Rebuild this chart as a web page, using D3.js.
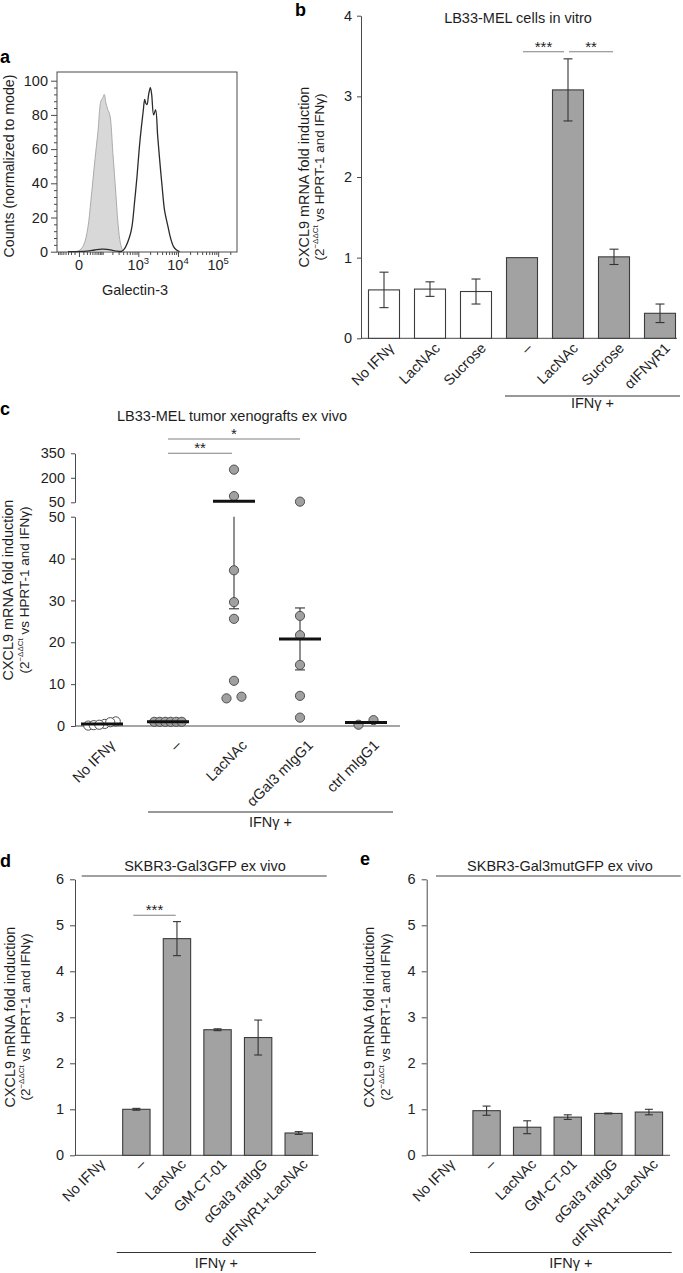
<!DOCTYPE html>
<html><head><meta charset="utf-8">
<script src="https://cdn.jsdelivr.net/npm/d3@7"></script>
<style>
body{margin:0;background:#fff;}
svg{font-family:"Liberation Sans",Arial,Helvetica,sans-serif;}
</style></head><body>
<svg id="fig" width="683" height="1273"></svg>
<script>
// ================= DATA =================
// Panel a : flow histogram (Galectin-3 fluorescence, % of mode)
const aXTicks = [0, 1e3, 1e4, 1e5];
const aXTickExp = ["", "3", "4", "5"];
const aYTicks = [0, 20, 40, 60, 80, 100];
const isotypeHist = [[-6,0],[2,1],[11,4],[23,14],[34,30],[52,54],[68,70],[87,88],[101,90],[113,92],[127,87],[136,85],[146,83],[168,80],[206,58],[251,34],[285,18],[324,7],[367,2],[416,0]];
const galectinHist = [[-30,0],[20,0.3],[50,1],[90,1.5],[140,1.4],[200,0.8],[280,0.3],[360,0.2],[442,2],[599,9],[688,15],[808,30],[926,44],[1054,60],[1200,73],[1332,82],[1456,89],[1543,87],[1664,86],[1837,92],[2027,96],[2187,92],[2455,80],[2754,83],[3093,68],[3470,54],[4010,38],[4626,24],[5588,15],[6526,8],[7750,3],[9204,1],[10920,0]];

// Panel b : LB33-MEL cells in vitro
const bCategories = ["No IFNγ","LacNAc","Sucrose","–","LacNAc","Sucrose","αIFNγR1"];
const bMeans  = [0.60, 0.61, 0.58, 1.00, 3.08, 1.01, 0.31];
const bErrors = [0.22, 0.09, 0.155, 0, 0.385, 0.095, 0.115];
const bWithIFN = [false, false, false, true, true, true, true];
const bYTicks = [0, 1, 2, 3, 4];

// Panel c : tumor xenografts ex vivo
const cCategories = ["No IFNγ","–","LacNAc","αGal3 mIgG1","ctrl mIgG1"];
const cValues = [
  [0.1, 0.5, 1.1, 0.2, 0.9, 0.3],
  [1.0, 1.0, 1.0, 1.0, 1.0, 1.0],
  [250, 88, 37.2, 29.6, 25.6, 10.8, 6.6, 7.0],
  [54, 26.3, 21.7, 14.6, 7.2, 2.0],
  [0.3, 1.4]
];
const cMeans = [0.45, 1.0, 57, 20.8, 0.85];
const cSEM   = [0, 0, 29, 7.4, 0];
const cOpen  = [true, false, false, false, false];
const cYTicksLow = [0, 10, 20, 30, 40, 50];
const cYTicksHigh = [50, 200, 350];

// Panels d, e : SKBR3 ex vivo
const deCategories = ["No IFNγ","–","LacNAc","GM-CT-01","αGal3 ratIgG","αIFNγR1+LacNAc"];
const dMeans  = [0, 1.00, 4.71, 2.73, 2.56, 0.485];
const dErrors = [0, 0.02, 0.37, 0.02, 0.38, 0.03];
const eMeans  = [0, 0.97, 0.61, 0.83, 0.91, 0.94];
const eErrors = [0, 0.10, 0.14, 0.05, 0.01, 0.06];
const deYTicks = [0, 1, 2, 3, 4, 5, 6];

// ================= STYLE =================
const TXT = "#1e1e1e", AXC = "#4a4a4a", BARF = "#a2a2a2", BARS = "#3c3c3c", LIGHT = "#808080";
const FS = 14.5;
const fmtInt = d3.format("d");
const svg = d3.select("#fig");

function styleAxis(g){
  g.attr("font-family", null).attr("font-size", FS);
  g.selectAll("line,path").attr("stroke", AXC);
  g.selectAll("text").attr("fill", TXT);
}
function letter(x, y, t){
  svg.append("text").attr("x", x).attr("y", y).attr("font-weight", "bold")
    .attr("font-size", 18).attr("fill", "#000").text(t);
}
function yLabel(x1, x2, cy){
  svg.append("text").attr("transform", `translate(${x1},${cy}) rotate(-90)`)
    .attr("text-anchor", "middle").attr("font-size", 14.4).attr("fill", TXT)
    .text("CXCL9 mRNA fold induction");
  const t = svg.append("text").attr("transform", `translate(${x2},${cy}) rotate(-90)`)
    .attr("text-anchor", "middle").attr("font-size", 13.5).attr("fill", TXT);
  t.append("tspan").text("(2");
  t.append("tspan").attr("font-size", 8).attr("dy", -6).text("−ΔΔCt");
  t.append("tspan").attr("dy", 6).text(" vs HPRT-1 and IFNγ)");
}
function rotLabels(cats, xf, dxo, yy){
  cats.forEach((c, i) => {
    svg.append("text").attr("transform", `translate(${xf(i) + dxo},${yy}) rotate(-45)`)
      .attr("text-anchor", "end").attr("font-size", FS).attr("fill", TXT).text(c);
  });
}
function ifnBar(x1, x2, y, ty){
  svg.append("line").attr("x1", x1).attr("x2", x2).attr("y1", y).attr("y2", y)
    .attr("stroke", "#333").attr("stroke-width", 1.2);
  svg.append("text").attr("x", (x1 + x2) / 2).attr("y", ty).attr("text-anchor", "middle")
    .attr("font-size", FS).attr("fill", TXT).text("IFNγ +");
}
function sig(x1, x2, y, label){
  svg.append("line").attr("x1", x1).attr("x2", x2).attr("y1", y).attr("y2", y)
    .attr("stroke", LIGHT).attr("stroke-width", 1.1);
  svg.append("text").attr("x", (x1 + x2) / 2).attr("y", y).attr("text-anchor", "middle")
    .attr("font-size", 15).attr("fill", TXT).text(label);
}
function errBar(x, yHi, yLo, capW, capHi = true, capLo = true){
  svg.append("line").attr("x1", x).attr("x2", x).attr("y1", yHi).attr("y2", yLo)
    .attr("stroke", "#333").attr("stroke-width", 1.1);
  if (capHi) svg.append("line").attr("x1", x - capW/2).attr("x2", x + capW/2).attr("y1", yHi).attr("y2", yHi).attr("stroke", "#333").attr("stroke-width", 1.1);
  if (capLo) svg.append("line").attr("x1", x - capW/2).attr("x2", x + capW/2).attr("y1", yLo).attr("y2", yLo).attr("stroke", "#333").attr("stroke-width", 1.1);
}

// ================= PANEL A =================
letter(0, 63, "a");
const ax = d3.scaleSymlog().constant(34.6).domain([-87, 2.94e5]).range([57, 237]);
const ay = d3.scaleLinear().domain([0, 100]).range([251.7, 80.7]);
svg.append("rect").attr("x", 57).attr("y", 72).attr("width", 180).attr("height", 180)
  .attr("fill", "none").attr("stroke", AXC).attr("stroke-width", 1);
svg.append("path").datum(isotypeHist)
  .attr("d", d3.area().x(d => ax(d[0])).y0(ay(0)).y1(d => ay(d[1])).curve(d3.curveCatmullRom))
  .attr("fill", "#d8d8d8").attr("stroke", "#ababab").attr("stroke-width", 1);
svg.append("path").datum(galectinHist)
  .attr("d", d3.line().x(d => ax(d[0])).y(d => ay(d[1])).curve(d3.curveCatmullRom))
  .attr("fill", "none").attr("stroke", "#2b2b2b").attr("stroke-width", 1.3);
const aYMinor = d3.range(0, 101, 4).filter(v => v % 20 !== 0);
svg.append("g").attr("transform", "translate(57,0)")
  .call(d3.axisLeft(ay).tickValues(aYMinor).tickSize(3).tickFormat("").tickSizeOuter(0))
  .call(styleAxis).call(g => g.select(".domain").remove());
svg.append("g").attr("transform", "translate(57,0)")
  .call(d3.axisLeft(ay).tickValues(aYTicks).tickSize(6).tickPadding(3).tickFormat(fmtInt).tickSizeOuter(0))
  .call(styleAxis).call(g => g.select(".domain").remove());
const aXMinor = [];
[1, 10, 100, 1000, 10000, 100000].forEach(dec => {
  for (let k = 1; k <= 9; k++) {
    [k * dec, -k * dec].forEach(v => {
      if (v >= -87 && v <= 2.94e5 && !aXTicks.includes(v) && Math.abs(v) >= 10) aXMinor.push(v);
    });
  }
});
svg.append("g").attr("transform", "translate(0,252)")
  .call(d3.axisBottom(ax).tickValues(aXMinor).tickSize(3).tickFormat("").tickSizeOuter(0))
  .call(styleAxis).call(g => g.select(".domain").remove());
svg.append("g").attr("transform", "translate(0,252)")
  .call(d3.axisBottom(ax).tickValues(aXTicks).tickSize(5).tickFormat("").tickSizeOuter(0))
  .call(styleAxis).call(g => g.select(".domain").remove());
aXTicks.forEach((v, i) => {
  const t = svg.append("text").attr("x", ax(v)).attr("y", 270).attr("text-anchor", "middle")
    .attr("font-size", FS).attr("fill", TXT);
  if (v === 0) t.text("0");
  else { t.append("tspan").text("10"); t.append("tspan").attr("font-size", 9.5).attr("dy", -6).text(aXTickExp[i]); }
});
svg.append("text").attr("x", 135).attr("y", 295).attr("text-anchor", "middle")
  .attr("font-size", FS).attr("fill", TXT).text("Galectin-3");
svg.append("text").attr("transform", "translate(14,166) rotate(-90)").attr("text-anchor", "middle")
  .attr("font-size", 14.2).attr("fill", TXT).text("Counts (normalized to mode)");

// ================= PANEL B =================
letter(295, 16, "b");
const bx = d3.scaleBand().domain(d3.range(bCategories.length)).range([361, 683]).paddingInner(0.326).paddingOuter(0.163);
const by = d3.scaleLinear().domain([0, 4]).range([338.3, 15.7]);
const bbw = bx.bandwidth();
svg.append("g").attr("transform", "translate(361,0)")
  .call(d3.axisLeft(by).tickValues(bYTicks).tickSize(4).tickPadding(5).tickFormat(fmtInt).tickSizeOuter(0))
  .call(styleAxis);
svg.append("line").attr("x1", 361).attr("x2", 677).attr("y1", by(0)).attr("y2", by(0)).attr("stroke", AXC);
bMeans.forEach((m, i) => {
  svg.append("rect").attr("x", bx(i)).attr("y", by(m)).attr("width", bbw).attr("height", by(0) - by(m))
    .attr("fill", bWithIFN[i] ? BARF : "#fff").attr("stroke", BARS).attr("stroke-width", 1.1);
  if (bErrors[i] > 0) errBar(bx(i) + bbw/2, by(m + bErrors[i]), by(m - bErrors[i]), 9);
});
svg.append("text").attr("x", 518).attr("y", 23).attr("text-anchor", "middle")
  .attr("font-size", FS).attr("fill", TXT).text("LB33-MEL cells in vitro");
sig(bx(3) + bbw/2 + 1, bx(4) + bbw/2 - 4, 51.7, "***");
sig(bx(4) + bbw/2 + 1, bx(5) + bbw/2 - 1, 51.7, "**");
yLabel(309, 324, 177);
rotLabels(bCategories, i => bx(i) + bbw/2, 11, 349);
ifnBar(505, 680, 396, 408);

// ================= PANEL C =================
letter(0, 415, "c");
const cx = d3.scaleBand().domain(d3.range(cCategories.length)).range([69, 399]);
const cyLow = d3.scaleLinear().domain([0, 50]).range([726, 516.7]);
const cyHigh = d3.scaleLinear().domain([50, 350]).range([502.3, 453.3]);
const cyv = v => v > 50 ? cyHigh(v) : cyLow(v);
const ccx = i => cx(i) + cx.bandwidth() / 2;
svg.append("g").attr("transform", "translate(75,0)")
  .call(d3.axisLeft(cyLow).tickValues(cYTicksLow).tickSize(4).tickPadding(6).tickFormat(fmtInt).tickSizeOuter(0))
  .call(styleAxis);
svg.append("g").attr("transform", "translate(75,0)")
  .call(d3.axisLeft(cyHigh).tickValues(cYTicksHigh).tickSize(4).tickPadding(6).tickFormat(fmtInt).tickSizeOuter(0))
  .call(styleAxis);
svg.append("line").attr("x1", 75).attr("x2", 400).attr("y1", cyLow(0)).attr("y2", cyLow(0)).attr("stroke", AXC);
svg.append("text").attr("x", 232).attr("y", 421).attr("text-anchor", "middle")
  .attr("font-size", FS).attr("fill", TXT).text("LB33-MEL tumor xenografts ex vivo");

function dodge(vals){
  const pts = vals.map((v, i) => ({ i, y: cyv(v) })).sort((a, b) => b.y - a.y);
  const clusters = [];
  pts.forEach(p => {
    const last = clusters[clusters.length - 1];
    if (last && Math.abs(last[last.length - 1].y - p.y) < 6) last.push(p); else clusters.push([p]);
  });
  const off = new Array(vals.length).fill(0);
  clusters.forEach(cl => {
    const step = cl.length === 2 ? 15 : 5.5;
    cl.forEach((p, k) => { off[p.i] = (k - (cl.length - 1) / 2) * step; });
  });
  return off;
}
cValues.forEach((vals, gi) => {
  const off = dodge(vals);
  const xc = ccx(gi);
  if (cSEM[gi] > 0) {
    const m = cMeans[gi], hi = m + cSEM[gi], lo = m - cSEM[gi];
    if (hi > 50) {
      errBar(xc, cyHigh(hi), cyHigh(Math.max(m, 50)), 10, true, false);
      errBar(xc, cyLow(50), cyLow(lo), 10, false, true);
    } else {
      errBar(xc, cyLow(hi), cyLow(lo), 10, true, true);
    }
  }
  vals.forEach((v, k) => {
    svg.append("circle").attr("cx", xc + off[k]).attr("cy", cyv(v)).attr("r", 4.6)
      .attr("fill", cOpen[gi] ? "#fff" : "#a0a0a0").attr("stroke", "#505050").attr("stroke-width", 1);
  });
  svg.append("line").attr("x1", xc - 21).attr("x2", xc + 21)
    .attr("y1", cyv(cMeans[gi])).attr("y2", cyv(cMeans[gi]))
    .attr("stroke", "#111").attr("stroke-width", 3);
});
sig(ccx(1), ccx(2) - 2, 453.3, "**");
sig(ccx(1), ccx(3), 439, "*");
yLabel(13, 29, 590);
rotLabels(cCategories, ccx, 14, 746);
ifnBar(148, 393, 812, 827);

// ================= PANELS D, E =================
function skPanel(opts){
  const { means, errs, r0, axX, axEnd, title, titleX, lineX1, lineX2, yl1, yl2, ifnX1, ifnX2 } = opts;
  const x = d3.scaleBand().domain(d3.range(deCategories.length)).range([r0, r0 + 243.5]).paddingInner(0.326).paddingOuter(0.163);
  const y = d3.scaleLinear().domain([0, 6]).range([1155.3, 879.3]);
  const bw = x.bandwidth();
  svg.append("g").attr("transform", `translate(${axX},0)`)
    .call(d3.axisLeft(y).tickValues(deYTicks).tickSize(5).tickPadding(6).tickFormat(fmtInt).tickSizeOuter(0))
    .call(styleAxis);
  svg.append("line").attr("x1", axX).attr("x2", axEnd).attr("y1", y(0)).attr("y2", y(0)).attr("stroke", AXC);
  means.forEach((m, i) => {
    if (m > 0) {
      svg.append("rect").attr("x", x(i)).attr("y", y(m)).attr("width", bw).attr("height", y(0) - y(m))
        .attr("fill", BARF).attr("stroke", BARS).attr("stroke-width", 1.1);
      if (errs[i] > 0) errBar(x(i) + bw/2, y(m + errs[i]), y(m - errs[i]), 8);
    }
  });
  svg.append("text").attr("x", titleX).attr("y", 870.5).attr("text-anchor", "middle")
    .attr("font-size", FS).attr("fill", TXT).text(title);
  svg.append("line").attr("x1", lineX1).attr("x2", lineX2).attr("y1", 876).attr("y2", 876)
    .attr("stroke", LIGHT).attr("stroke-width", 1.3);
  yLabel(yl1, yl2, 1017);
  rotLabels(deCategories, i => x(i) + bw/2, 10, 1165);
  ifnBar(ifnX1, ifnX2, 1252.5, 1268);
  return { x, y, bw };
}
letter(0, 867, "d");
skPanel({ means: dMeans, errs: dErrors, r0: 75.5, axX: 75, axEnd: 318.5,
  title: "SKBR3-Gal3GFP ex vivo", titleX: 205, lineX1: 81.7, lineX2: 326.7,
  yl1: 15, yl2: 30, ifnX1: 116.7, ifnX2: 316 });
sig(133.3, 175.7, 915.3, "***");
letter(360, 865, "e");
skPanel({ means: eMeans, errs: eErrors, r0: 425.7, axX: 426.7, axEnd: 670,
  title: "SKBR3-Gal3mutGFP ex vivo", titleX: 560, lineX1: 436, lineX2: 680.7,
  yl1: 374, yl2: 390, ifnX1: 470, ifnX2: 671.7 });
</script></body></html>
